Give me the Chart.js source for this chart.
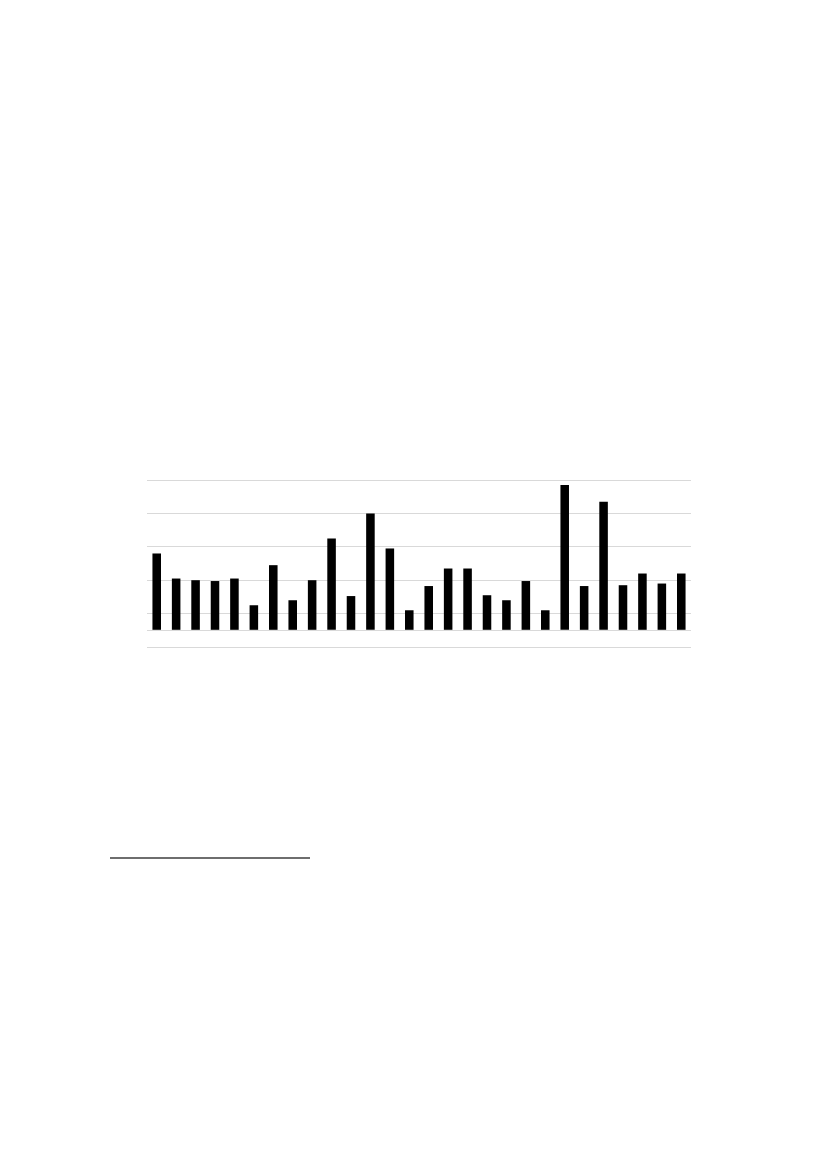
<!DOCTYPE html>
<html>
<head>
<meta charset="utf-8">
<script src="https://cdn.jsdelivr.net/npm/chart.js@4/dist/chart.umd.min.js"></script>
<style>
  html, body { margin: 0; padding: 0; background: #fff; }
  body { width: 827px; height: 1169px; position: relative; overflow: hidden; }
  #wrap { position: absolute; left: 137px; top: 470px; width: 564px; height: 187px; }
  #footrule { position: absolute; left: 110px; top: 857px; width: 200px; height: 0; border-top: 2px solid #6e6e6e; }
</style>
</head>
<body>
<div id="wrap"><canvas id="chart"></canvas></div>
<div id="footrule"></div>
<script>
// 28 unlabeled categories
const categories = [
    '1', '2', '3', '4', '5', '6', '7', '8', '9', '10', '11', '12', '13', '14',
    '15', '16', '17', '18', '19', '20', '21', '22', '23', '24', '25', '26', '27', '28',
];
const values = [
    46, 31, 30, 29.5, 31, 15, 39, 18, 30, 55, 20.5, 70, 49, 12,
    26.5, 37, 37, 21, 18, 29.5, 12, 87, 26.5, 77, 27, 34, 28, 34,
];
// gridlines sit half a step off the zero line
const gridTicks = [-10, 0, 10, 30, 50, 70, 90];

new Chart(document.getElementById('chart'), {
    type: 'bar',
    data: {
        labels: categories,
        datasets: [
            {
                data: values,
                backgroundColor: '#000',
                borderWidth: 0,
                barPercentage: 0.44,
                categoryPercentage: 1,
            },
        ],
    },
    options: {
        responsive: true,
        maintainAspectRatio: false,
        animation: false,
        layout: { padding: 10 },
        plugins: {
            legend: { display: false },
            tooltip: { enabled: false },
        },
        scales: {
            x: {
                display: false,
            },
            y: {
                min: -10,
                max: 90,
                afterBuildTicks: (axis) => {
                    axis.ticks = gridTicks.map((v) => ({ value: v }));
                },
                ticks: { display: false },
                border: { display: false },
                grid: { color: '#d9d9d9', lineWidth: 1, drawTicks: false },
            },
        },
    },
});
</script>
</body>
</html>
